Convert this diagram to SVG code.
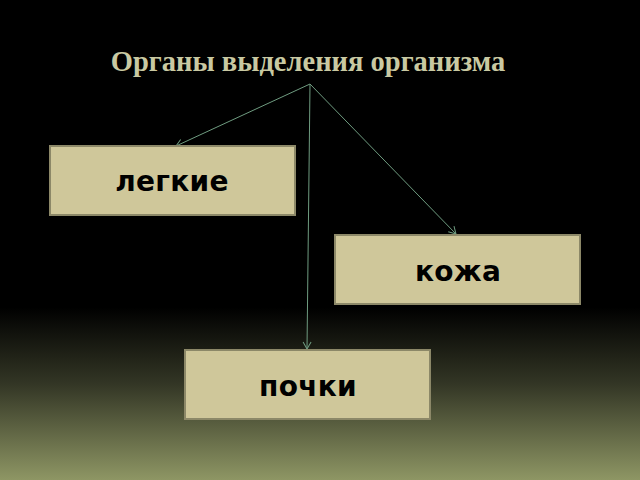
<svg xmlns="http://www.w3.org/2000/svg" width="640" height="480" viewBox="0 0 640 480">
<defs>
<linearGradient id="bg" x1="0" y1="0" x2="0" y2="1">
<stop offset="0" stop-color="#000"/>
<stop offset="0.64" stop-color="#000"/>
<stop offset="0.8" stop-color="#333625"/>
<stop offset="1" stop-color="#8e9664"/>
</linearGradient>
<marker id="arr" markerWidth="10" markerHeight="10" refX="8" refY="5" orient="auto" markerUnits="userSpaceOnUse">
<path d="M1,1 L8,5 L1,9" fill="none" stroke="#6f9c80" stroke-width="1"/>
</marker>
<style>
.box{fill:#cfc79a;stroke:#8c8868;stroke-width:2}
.lbl{font-family:"DejaVu Sans",sans-serif;font-weight:bold;font-size:28px;fill:#000;text-anchor:middle;letter-spacing:0.3px}
.ln{stroke:#6f9c80;stroke-width:1;fill:none}
</style>
</defs>
<rect width="640" height="480" fill="url(#bg)"/>
<text x="308" y="71" font-family="Liberation Serif, serif" font-weight="bold" font-size="28.5" fill="#c9c9a2" text-anchor="middle">Органы выделения организма</text>
<g id="connectors">
<line class="ln" x1="310" y1="84" x2="176" y2="146" marker-end="url(#arr)"/>
<line class="ln" x1="310" y1="84" x2="456" y2="234" marker-end="url(#arr)"/>
<line class="ln" x1="310" y1="84" x2="307" y2="349" marker-end="url(#arr)"/>
</g>
<g id="legkie">
<rect class="box" x="50" y="146" width="245" height="69"/>
<text class="lbl" x="172" y="191">легкие</text>
</g>
<g id="kozha">
<rect class="box" x="335" y="235" width="245" height="69"/>
<text class="lbl" x="458" y="281">кожа</text>
</g>
<g id="pochki">
<rect class="box" x="185" y="350" width="245" height="69"/>
<text class="lbl" x="308" y="396">почки</text>
</g>
</svg>
